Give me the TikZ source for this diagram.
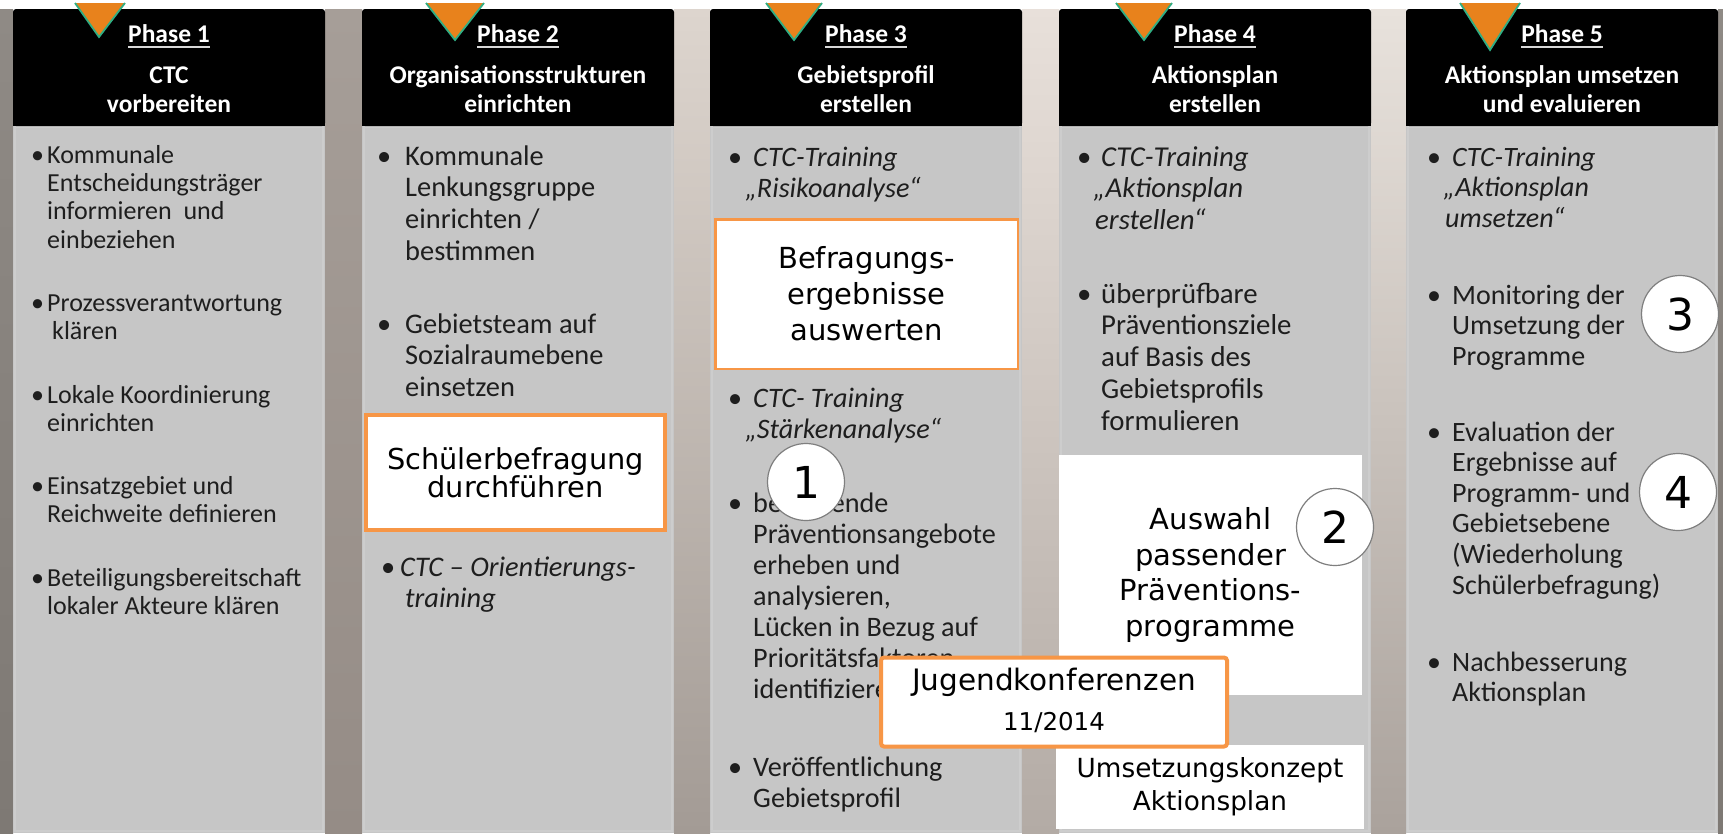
\documentclass[tikz,border=0pt]{standalone}
\usepackage{fontspec}
\setmainfont{Carlito}
\newfontfamily\vfont{DejaVu Sans}
\newcommand\fsz[2]{\fontsize{#1pt}{#2pt}\selectfont}
\newcommand\bul[1]{\makebox[#1][l]{•}}
\newcommand\nl{\\&}
\newcommand\blist[2]{\begin{tabular}[t]{@{}l@{}l@{}}\bul{#1}&#2\end{tabular}}
\newcommand\hlines[1]{\begin{tabular}[t]{@{}c@{}}#1\end{tabular}}
\definecolor{bodygray}{HTML}{C6C6C6}
\definecolor{bodyedge}{HTML}{CDCDCD}
\definecolor{txt}{HTML}{1E1E1E}
\definecolor{triorange}{HTML}{E8821C}
\definecolor{trigreen}{HTML}{2FAE84}
\definecolor{boxorange}{HTML}{F79646}
\definecolor{circline}{HTML}{7F7F7F}
\definecolor{ulgray}{HTML}{D8D8D8}
\definecolor{lsA}{HTML}{8F8A85}\definecolor{lsB}{HTML}{7E7974}
\definecolor{gaA}{HTML}{A69E98}\definecolor{gaB}{HTML}{958C86}
\definecolor{gbA}{HTML}{DDD5CE}\definecolor{gbB}{HTML}{A39B95}
\definecolor{gcA}{HTML}{E8E0DA}\definecolor{gcB}{HTML}{B3ABA5}
\definecolor{gdA}{HTML}{E8E2DC}\definecolor{gdB}{HTML}{AAA29C}
\tikzset{
  bodyt/.style={anchor=base west, inner sep=0pt, text=txt},
  hph/.style={anchor=base, inner sep=0pt, text=white, font=\bfseries\fsz{25.5}{29}},
  uline/.style={draw=ulgray, line width=1.6pt},
  wbox/.style={fill=white, inner sep=0pt, align=center, text=black},
  obox/.style={wbox, draw=boxorange, line width=4pt},
  numc/.style={circle, draw=circline, line width=1.2pt, fill=white, minimum size=77pt, inner sep=0pt, text=black, font=\vfont\fsz{44}{44}},
  trifill/.style={fill=triorange},
  triedge/.style={draw=trigreen, line width=1.8pt, line join=miter}
}
\begin{document}
\begin{tikzpicture}[x=1pt,y=-1pt]
\useasboundingbox (0,0) rectangle (1723,833);
% background
\fill[white] (0,0) rectangle (1723,833);
\shade[top color=lsA, bottom color=lsB] (0,9) rectangle (13,833);
\shade[top color=gaA, bottom color=gaB] (325,9) rectangle (362,833);
\shade[top color=gbA, bottom color=gbB] (674,9) rectangle (710,833);
\shade[top color=gcA, bottom color=gcB] (1022,9) rectangle (1059,833);
\shade[top color=gdA, bottom color=gdB] (1371,9) rectangle (1406,833);
\shade[top color=lsA, bottom color=lsB] (1718,9) rectangle (1723,833);
% columns
\foreach \x in {13,362,710,1059,1406}{
  \fill[bodygray] (\x,126) rectangle (\x+312,833);
  \draw[bodyedge, line width=2pt] (\x+2,127) rectangle (\x+310,831);
  \fill[black, rounded corners=3pt] (\x,9) rectangle (\x+312,126);
  \fill[black] (\x,100) rectangle (\x+312,126);
}
% triangles
\fill[trifill] (75,3) -- (125,3) -- (99,37) -- cycle;
\draw[triedge] (75,3) -- (99,37) -- (125,3);
\fill[trifill] (426,3) -- (484,3) -- (455,40) -- cycle;
\draw[triedge] (426,3) -- (455,40) -- (484,3);
\fill[trifill] (766,3) -- (822,3) -- (794,40) -- cycle;
\draw[triedge] (766,3) -- (794,40) -- (822,3);
\fill[trifill] (1116,3) -- (1172,3) -- (1144,40) -- cycle;
\draw[triedge] (1116,3) -- (1144,40) -- (1172,3);
\fill[trifill] (1460,3) -- (1520,3) -- (1490,50) -- cycle;
\draw[triedge] (1460,3) -- (1490,50) -- (1520,3);
% header texts
\node[hph] (p1) at (169,42) {Phase 1};
\node[hph] (p2) at (518,42) {Phase 2};
\node[hph] (p3) at (866,42) {Phase 3};
\node[hph] (p4) at (1215,42) {Phase 4};
\node[hph] (p5) at (1562,42) {Phase 5};
\foreach \p in {p1,p2,p3,p4,p5}{
  \draw[uline] ([yshift=-5pt]\p.base west) -- ([yshift=-5pt]\p.base east);
}
\node[hph] (t1) at (169,83) {\hlines{CTC\\vorbereiten}};
\node[hph] (t2) at (518,83) {\hlines{Organisationsstrukturen\\einrichten}};
\node[hph] (t3) at (866,83) {\hlines{Gebietsprofil\\erstellen}};
\node[hph] (t4) at (1215,83) {\hlines{Aktionsplan\\erstellen}};
\node[hph] (t5) at (1562,83) {\hlines{Aktionsplan umsetzen\\und evaluieren}};
% column 1
\begin{scope}[every node/.append style={font=\fsz{26}{28.4}}]
\node[bodyt] (c1a) at (31,163) {\blist{16pt}{Kommunale\nl Entscheidungsträger\nl informieren\ \ und\nl einbeziehen}};
\node[bodyt] (c1b) at (31,311) {\blist{16pt}{Prozessverantwortung\nl \hspace{5pt}klären}};
\node[bodyt] (c1c) at (31,403) {\blist{16pt}{Lokale Koordinierung\nl einrichten}};
\node[bodyt] (c1d) at (31,494) {\blist{16pt}{Einsatzgebiet und\nl Reichweite definieren}};
\node[bodyt] (c1e) at (31,586) {\blist{16pt}{Beteiligungsbereitschaft\nl lokaler Akteure klären}};
\end{scope}
% column 2
\begin{scope}[every node/.append style={font=\fsz{28.4}{31.8}}]
\node[bodyt] (c2a) at (377,165) {\blist{28pt}{Kommunale\nl Lenkungsgruppe\nl einrichten /\nl bestimmen}};
\node[bodyt] (c2b) at (377,333) {\blist{28pt}{Gebietsteam auf\nl Sozialraumebene\nl einsetzen}};
\node[bodyt] (c2c) at (381,576) {\blist{19pt}{\itshape CTC – Orientierungs-\nl \itshape\hspace{5pt}training}};
\end{scope}
% column 3
\begin{scope}[every node/.append style={font=\fsz{28.2}{31}}]
\node[bodyt] (c3a) at (728,166) {\blist{25pt}{\itshape CTC-Training\nl \itshape\hspace{-8pt}„Risikoanalyse“}};
\node[bodyt] (c3b) at (728,407) {\blist{25pt}{\itshape CTC- Training\nl \itshape\hspace{-8pt}„Stärkenanalyse“}};
\node[bodyt] (c3c) at (728,512) {\blist{25pt}{bestehende\nl Präventionsangebote\nl erheben und\nl analysieren,\nl Lücken in Bezug auf\nl Prioritätsfaktoren\nl identifizieren}};
\node[bodyt] (c3d) at (728,776) {\blist{25pt}{Veröffentlichung\nl Gebietsprofil}};
\end{scope}
% column 4
\begin{scope}[every node/.append style={font=\fsz{28.8}{31.8}}]
\node[bodyt] (c4a) at (1077,166) {\blist{24pt}{\itshape CTC-Training\nl \itshape\hspace{-8pt}„Aktionsplan\nl \itshape\hspace{-6pt}erstellen“}};
\node[bodyt] (c4b) at (1077,303) {\blist{24pt}{überprüfbare\nl Präventionsziele\nl auf Basis des\nl Gebietsprofils\nl formulieren}};
\end{scope}
% column 5
\begin{scope}[every node/.append style={font=\fsz{28}{30.6}}]
\node[bodyt] (c5a) at (1427,166) {\blist{25pt}{\itshape CTC-Training\nl \itshape\hspace{-9pt}„Aktionsplan\nl \itshape\hspace{-7pt}umsetzen“}};
\node[bodyt] (c5b) at (1427,304) {\blist{25pt}{Monitoring der\nl Umsetzung der\nl Programme}};
\node[bodyt] (c5c) at (1427,441) {\blist{25pt}{Evaluation der\nl Ergebnisse auf\nl Programm- und\nl Gebietsebene\nl (Wiederholung\nl Schülerbefragung)}};
\node[bodyt] (c5d) at (1427,671) {\blist{25pt}{Nachbesserung\nl Aktionsplan}};
\end{scope}
% white boxes
\node[obox, line width=2.5pt, minimum width=302.5pt, minimum height=149.5pt, font=\vfont\fsz{29}{36}] (befr) at (866.5,294) {Befragungs-\\ergebnisse\\auswerten};
\node[obox, minimum width=299pt, minimum height=115pt, font=\vfont\fsz{28.8}{28}] (schuel) at (515.5,472.5) {Schülerbefragung\\durchführen};
\node[wbox, minimum width=303pt, minimum height=240pt, font=\vfont\fsz{29}{35.7}] (auswahl) at (1210.5,575) {Auswahl\\passender\\Präventions-\\programme};
\node[wbox, minimum width=308pt, minimum height=84pt, font=\vfont\fsz{26.3}{33}] (umsetz) at (1210,787) {Umsetzungskonzept\\Aktionsplan};
\node[obox, rounded corners=3pt, minimum width=346pt, minimum height=89pt, font=\vfont\fsz{29.5}{40}] (jugend) at (1054,702) {\begin{tabular}{@{}c@{}}Jugendkonferenzen\\{\fsz{24.5}{30}11/2014}\end{tabular}};
% numbered circles
\node[numc] (n1) at (806,482) {1};
\node[numc] (n2) at (1335,527) {2};
\node[numc] (n3) at (1680,314) {3};
\node[numc] (n4) at (1678,492) {4};
\end{tikzpicture}
\end{document}
